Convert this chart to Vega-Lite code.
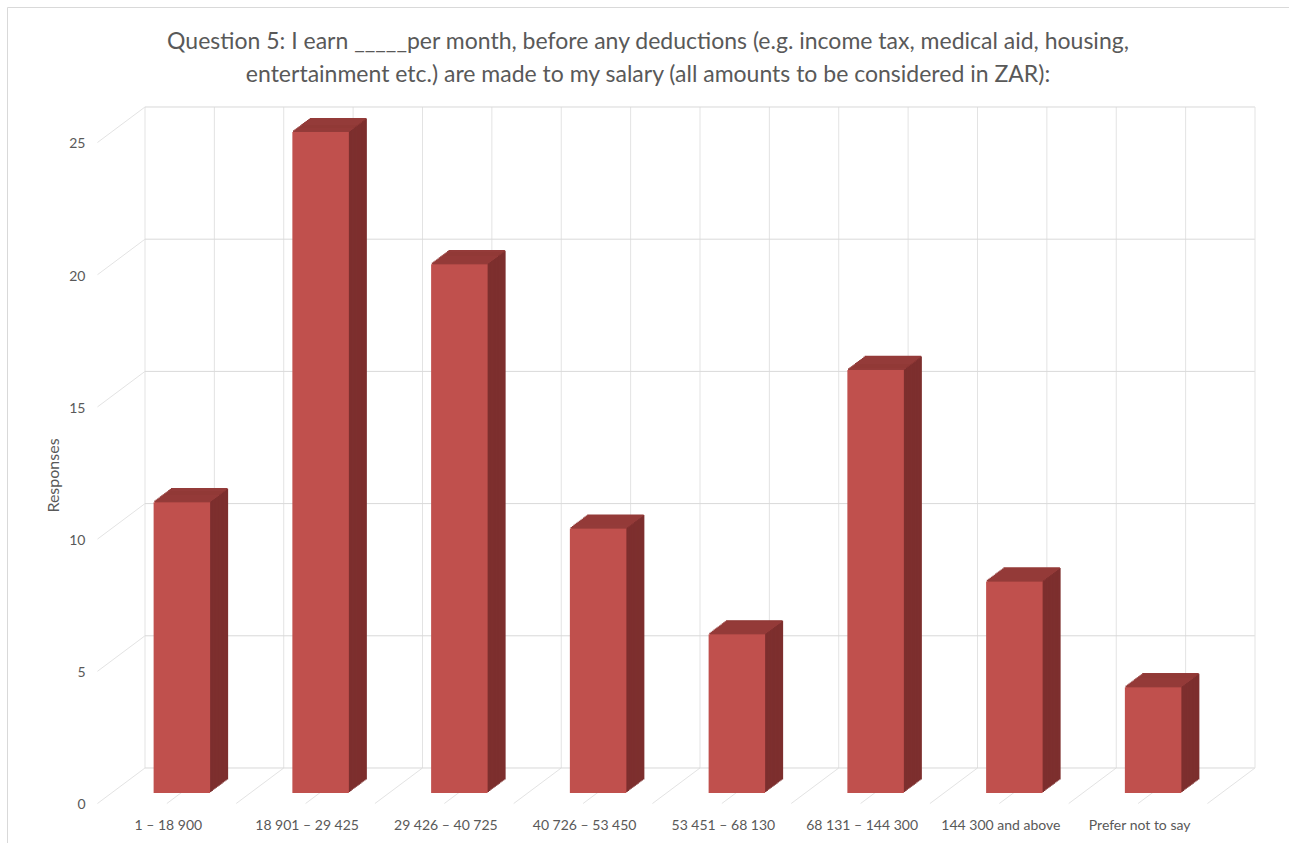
{
  "$schema": "https://vega.github.io/schema/vega-lite/v6.json",
  "autosize": "none",
  "width": 1282,
  "height": 836,
  "padding": {"left": 7, "top": 7, "right": 0, "bottom": 0},
  "background": "white",
  "config": {"view": {"stroke": null}, "font": "Lato"},
  "title": {
    "text": ["Question 5: I earn _____per month, before any deductions (e.g. income tax, medical aid, housing,", "entertainment etc.) are made to my salary (all amounts to be considered in ZAR):"],
    "font": "Lato", "fontSize": 23, "fontWeight": "normal", "color": "#595959",
    "lineHeight": 33, "anchor": "middle", "baseline": "top", "offset": -80
  },
  "data": {"values": [
    {"income": "1 – 18 900", "responses": 11},
    {"income": "18 901 – 29 425", "responses": 25},
    {"income": "29 426 – 40 725", "responses": 20},
    {"income": "40 726 – 53 450", "responses": 10},
    {"income": "53 451 – 68 130", "responses": 6},
    {"income": "68 131 – 144 300", "responses": 16},
    {"income": "144 300 and above", "responses": 8},
    {"income": "Prefer not to say", "responses": 4}
  ]},
  "resolve": {"axis": {"x": "independent"}},
  "layer": [
    {
      "layer": [
        {
          "mark": {"type": "rule", "color": "#e3e3e3", "strokeWidth": 1},
          "encoding": {
            "x": {"field": "income", "type": "nominal", "bandPosition": 0,
              "scale": {"domain": ["1 – 18 900", "18 901 – 29 425", "29 426 – 40 725", "40 726 – 53 450", "53 451 – 68 130", "68 131 – 144 300", "144 300 and above", "Prefer not to say"], "paddingInner": 0, "paddingOuter": 0.6198, "align": 0.8023, "round": false},
              "axis": {"orient": "bottom", "domain": false, "ticks": false, "tickSize": 0, "grid": false, "labelAngle": 0, "labelPadding": -18, "labelOffset": -46, "labelBaseline": "middle", "labelFont": "Lato", "labelFontSize": 14, "labelColor": "#595959", "title": null}},
            "y": {"datum": 0,
              "scale": {"domain": [-2.837, 28.782], "nice": false, "zero": false},
              "axis": {"orient": "left", "values": [0, 5, 10, 15, 20, 25], "grid": false, "ticks": false, "tickSize": 0, "domain": true, "domainColor": "#d9d9d9", "domainWidth": 1, "labelPadding": -78, "labelOffset": 37, "labelAlign": "right", "labelBaseline": "middle", "labelFont": "Lato", "labelFontSize": 14, "labelColor": "#595959", "title": "Responses", "titleFont": "Lato", "titleFontSize": 16, "titleFontWeight": "normal", "titleColor": "#595959", "titleX": 46, "titleY": 468, "titleAngle": -90, "titleAlign": "center", "titleBaseline": "middle"}},
            "y2": {"datum": 25}
          }
        },
        {
          "mark": {"type": "rule", "color": "#e3e3e3", "strokeWidth": 1},
          "encoding": {
            "x": {"field": "income", "type": "nominal", "bandPosition": 0.5},
            "y": {"datum": 0}, "y2": {"datum": 25}
          }
        },
        {
          "mark": {"type": "rule", "color": "#e3e3e3", "strokeWidth": 1, "x2Offset": -47.5, "y2Offset": 35.5},
          "encoding": {
            "x": {"field": "income", "type": "nominal", "bandPosition": 0},
            "x2": {"field": "income", "bandPosition": 0},
            "y": {"datum": 0}, "y2": {"datum": 0}
          }
        },
        {
          "mark": {"type": "rule", "color": "#e3e3e3", "strokeWidth": 1, "x2Offset": -47.5, "y2Offset": 35.5},
          "encoding": {
            "x": {"field": "income", "type": "nominal", "bandPosition": 0.5},
            "x2": {"field": "income", "bandPosition": 0.5},
            "y": {"datum": 0}, "y2": {"datum": 0}
          }
        },
        {
          "transform": [{"aggregate": [{"op": "count", "as": "n"}]}],
          "layer": [
            {"mark": {"type": "rule", "color": "#d9d9d9", "strokeWidth": 1}, "encoding": {"x": {"datum": "1 – 18 900", "bandPosition": 0}, "x2": {"datum": "Prefer not to say", "bandPosition": 1}, "y": {"datum": 0}}},
            {"mark": {"type": "rule", "color": "#d9d9d9", "strokeWidth": 1}, "encoding": {"x": {"datum": "1 – 18 900", "bandPosition": 0}, "x2": {"datum": "Prefer not to say", "bandPosition": 1}, "y": {"datum": 5}}},
            {"mark": {"type": "rule", "color": "#d9d9d9", "strokeWidth": 1}, "encoding": {"x": {"datum": "1 – 18 900", "bandPosition": 0}, "x2": {"datum": "Prefer not to say", "bandPosition": 1}, "y": {"datum": 10}}},
            {"mark": {"type": "rule", "color": "#d9d9d9", "strokeWidth": 1}, "encoding": {"x": {"datum": "1 – 18 900", "bandPosition": 0}, "x2": {"datum": "Prefer not to say", "bandPosition": 1}, "y": {"datum": 15}}},
            {"mark": {"type": "rule", "color": "#d9d9d9", "strokeWidth": 1}, "encoding": {"x": {"datum": "1 – 18 900", "bandPosition": 0}, "x2": {"datum": "Prefer not to say", "bandPosition": 1}, "y": {"datum": 20}}},
            {"mark": {"type": "rule", "color": "#d9d9d9", "strokeWidth": 1}, "encoding": {"x": {"datum": "1 – 18 900", "bandPosition": 0}, "x2": {"datum": "Prefer not to say", "bandPosition": 1}, "y": {"datum": 25}}},
            {"mark": {"type": "rule", "color": "#e3e3e3", "strokeWidth": 1, "x2Offset": -47.5, "y2Offset": 35.5}, "encoding": {"x": {"datum": "1 – 18 900", "bandPosition": 0}, "x2": {"datum": "1 – 18 900", "bandPosition": 0}, "y": {"datum": 5}, "y2": {"datum": 5}}},
            {"mark": {"type": "rule", "color": "#e3e3e3", "strokeWidth": 1, "x2Offset": -47.5, "y2Offset": 35.5}, "encoding": {"x": {"datum": "1 – 18 900", "bandPosition": 0}, "x2": {"datum": "1 – 18 900", "bandPosition": 0}, "y": {"datum": 10}, "y2": {"datum": 10}}},
            {"mark": {"type": "rule", "color": "#e3e3e3", "strokeWidth": 1, "x2Offset": -47.5, "y2Offset": 35.5}, "encoding": {"x": {"datum": "1 – 18 900", "bandPosition": 0}, "x2": {"datum": "1 – 18 900", "bandPosition": 0}, "y": {"datum": 15}, "y2": {"datum": 15}}},
            {"mark": {"type": "rule", "color": "#e3e3e3", "strokeWidth": 1, "x2Offset": -47.5, "y2Offset": 35.5}, "encoding": {"x": {"datum": "1 – 18 900", "bandPosition": 0}, "x2": {"datum": "1 – 18 900", "bandPosition": 0}, "y": {"datum": 20}, "y2": {"datum": 20}}},
            {"mark": {"type": "rule", "color": "#e3e3e3", "strokeWidth": 1, "x2Offset": -47.5, "y2Offset": 35.5}, "encoding": {"x": {"datum": "1 – 18 900", "bandPosition": 0}, "x2": {"datum": "1 – 18 900", "bandPosition": 0}, "y": {"datum": 25}, "y2": {"datum": 25}}},
            {"mark": {"type": "rule", "color": "#e3e3e3", "strokeWidth": 1, "x2Offset": -47.5, "y2Offset": 35.5}, "encoding": {"x": {"datum": "Prefer not to say", "bandPosition": 1}, "x2": {"datum": "Prefer not to say", "bandPosition": 1}, "y": {"datum": 0}, "y2": {"datum": 0}}}
          ]
        },
        {
          "encoding": {
            "x": {"field": "income", "type": "nominal"},
            "y": {"field": "responses", "type": "quantitative"}
          },
          "layer": [
            {"mark": {"type": "bar", "color": "#7d2f2e", "width": 56.5, "xOffset": -14.495, "yOffset": 11.48, "y2Offset": 11.48}, "encoding": {"y2": {"datum": 0}}},
            {"mark": {"type": "bar", "color": "#943b39", "width": 56.5, "xOffset": -15.19, "yOffset": 10.88, "y2Offset": 12.52}, "encoding": {"y2": {"field": "responses"}}},
            {"mark": {"type": "bar", "color": "#7d2f2e", "width": 56.5, "xOffset": -15.88, "yOffset": 12.52, "y2Offset": 12.52}, "encoding": {"y2": {"datum": 0}}},
            {"mark": {"type": "bar", "color": "#943b39", "width": 56.5, "xOffset": -16.57, "yOffset": 11.92, "y2Offset": 13.56}, "encoding": {"y2": {"field": "responses"}}},
            {"mark": {"type": "bar", "color": "#7d2f2e", "width": 56.5, "xOffset": -17.265, "yOffset": 13.56, "y2Offset": 13.56}, "encoding": {"y2": {"datum": 0}}},
            {"mark": {"type": "bar", "color": "#943b39", "width": 56.5, "xOffset": -17.96, "yOffset": 12.96, "y2Offset": 14.6}, "encoding": {"y2": {"field": "responses"}}},
            {"mark": {"type": "bar", "color": "#7d2f2e", "width": 56.5, "xOffset": -18.65, "yOffset": 14.6, "y2Offset": 14.6}, "encoding": {"y2": {"datum": 0}}},
            {"mark": {"type": "bar", "color": "#943b39", "width": 56.5, "xOffset": -19.34, "yOffset": 14.0, "y2Offset": 15.64}, "encoding": {"y2": {"field": "responses"}}},
            {"mark": {"type": "bar", "color": "#7d2f2e", "width": 56.5, "xOffset": -20.035, "yOffset": 15.64, "y2Offset": 15.64}, "encoding": {"y2": {"datum": 0}}},
            {"mark": {"type": "bar", "color": "#943b39", "width": 56.5, "xOffset": -20.73, "yOffset": 15.04, "y2Offset": 16.68}, "encoding": {"y2": {"field": "responses"}}},
            {"mark": {"type": "bar", "color": "#7d2f2e", "width": 56.5, "xOffset": -21.42, "yOffset": 16.68, "y2Offset": 16.68}, "encoding": {"y2": {"datum": 0}}},
            {"mark": {"type": "bar", "color": "#943b39", "width": 56.5, "xOffset": -22.11, "yOffset": 16.08, "y2Offset": 17.72}, "encoding": {"y2": {"field": "responses"}}},
            {"mark": {"type": "bar", "color": "#7d2f2e", "width": 56.5, "xOffset": -22.805, "yOffset": 17.72, "y2Offset": 17.72}, "encoding": {"y2": {"datum": 0}}},
            {"mark": {"type": "bar", "color": "#943b39", "width": 56.5, "xOffset": -23.5, "yOffset": 17.12, "y2Offset": 18.76}, "encoding": {"y2": {"field": "responses"}}},
            {"mark": {"type": "bar", "color": "#7d2f2e", "width": 56.5, "xOffset": -24.19, "yOffset": 18.76, "y2Offset": 18.76}, "encoding": {"y2": {"datum": 0}}},
            {"mark": {"type": "bar", "color": "#943b39", "width": 56.5, "xOffset": -24.88, "yOffset": 18.16, "y2Offset": 19.8}, "encoding": {"y2": {"field": "responses"}}},
            {"mark": {"type": "bar", "color": "#7d2f2e", "width": 56.5, "xOffset": -25.575, "yOffset": 19.8, "y2Offset": 19.8}, "encoding": {"y2": {"datum": 0}}},
            {"mark": {"type": "bar", "color": "#943b39", "width": 56.5, "xOffset": -26.27, "yOffset": 19.2, "y2Offset": 20.84}, "encoding": {"y2": {"field": "responses"}}},
            {"mark": {"type": "bar", "color": "#7d2f2e", "width": 56.5, "xOffset": -26.96, "yOffset": 20.84, "y2Offset": 20.84}, "encoding": {"y2": {"datum": 0}}},
            {"mark": {"type": "bar", "color": "#943b39", "width": 56.5, "xOffset": -27.65, "yOffset": 20.24, "y2Offset": 21.88}, "encoding": {"y2": {"field": "responses"}}},
            {"mark": {"type": "bar", "color": "#7d2f2e", "width": 56.5, "xOffset": -28.345, "yOffset": 21.88, "y2Offset": 21.88}, "encoding": {"y2": {"datum": 0}}},
            {"mark": {"type": "bar", "color": "#943b39", "width": 56.5, "xOffset": -29.04, "yOffset": 21.28, "y2Offset": 22.92}, "encoding": {"y2": {"field": "responses"}}},
            {"mark": {"type": "bar", "color": "#7d2f2e", "width": 56.5, "xOffset": -29.73, "yOffset": 22.92, "y2Offset": 22.92}, "encoding": {"y2": {"datum": 0}}},
            {"mark": {"type": "bar", "color": "#943b39", "width": 56.5, "xOffset": -30.42, "yOffset": 22.32, "y2Offset": 23.96}, "encoding": {"y2": {"field": "responses"}}},
            {"mark": {"type": "bar", "color": "#7d2f2e", "width": 56.5, "xOffset": -31.115, "yOffset": 23.96, "y2Offset": 23.96}, "encoding": {"y2": {"datum": 0}}},
            {"mark": {"type": "bar", "color": "#943b39", "width": 56.5, "xOffset": -31.81, "yOffset": 23.36, "y2Offset": 25}, "encoding": {"y2": {"field": "responses"}}},
            {"mark": {"type": "bar", "color": "#c0504d", "width": 56.5, "xOffset": -32.5, "yOffset": 25, "y2Offset": 25}, "encoding": {"y2": {"datum": 0}}}
          ]
        }
      ]
    },
    {
      "transform": [{"aggregate": [{"op": "count", "as": "n"}]}],
      "mark": {"type": "rule", "color": "#e3e3e3", "strokeWidth": 1},
      "encoding": {
        "x": {"datum": "Prefer not to say", "bandPosition": 1,
          "axis": {"orient": "top", "labels": false, "ticks": false, "grid": false, "domain": true, "domainColor": "#d9d9d9", "domainWidth": 1, "title": null}},
        "y": {"datum": 0},
        "y2": {"datum": 25}
      }
    }
  ]
}
